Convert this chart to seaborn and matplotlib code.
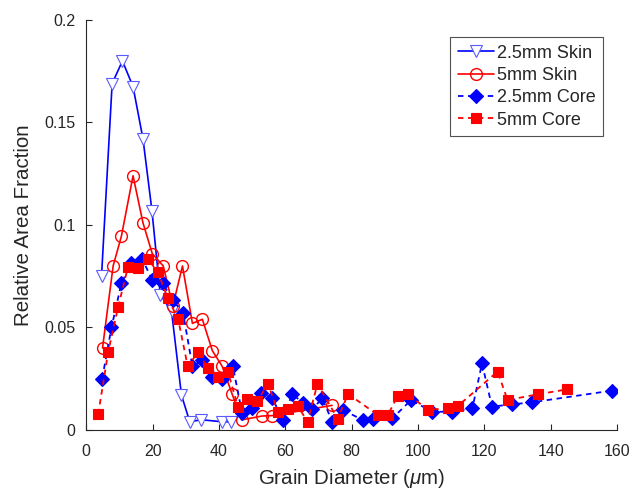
import matplotlib
matplotlib.use("Agg")
import matplotlib.pyplot as plt
import seaborn as sns
import numpy as np

# ---- data ----
skin25_x = [4.6, 7.8, 10.9, 14.1, 17.1, 19.8, 22.3, 25.7, 28.7, 31.2, 34.7, 40.9, 43.5]
skin25_y = [0.075, 0.169, 0.180, 0.1675, 0.142, 0.107, 0.066, 0.058, 0.017, 0.004, 0.005, 0.004, 0.004]

skin5_x = [4.9, 8.1, 10.6, 14.1, 17.1, 19.9, 23.2, 26.1, 29.0, 32.0, 35.0, 38.0, 41.0, 44.0, 46.8, 53.0, 56.0, 74.1]
skin5_y = [0.040, 0.080, 0.0946, 0.124, 0.101, 0.086, 0.080, 0.0605, 0.080, 0.052, 0.054, 0.0387, 0.031, 0.0174, 0.0049, 0.0068, 0.0070, 0.012]

core25_x = [4.8, 7.6, 10.6, 13.6, 16.9, 19.9, 23.0, 26.1, 29.2, 32.0, 35.0, 38.0, 41.0, 44.2, 47.0, 50.0, 52.8, 56.0,
            59.2, 62.1, 65.2, 68.2, 71.1, 74.2, 77.3, 83.3, 86.4, 92.3, 97.9, 104.3, 110.3, 116.4, 119.3, 122.3,
            128.4, 134.4, 158.5]
core25_y = [0.025, 0.050, 0.0716, 0.0813, 0.0834, 0.073, 0.0716, 0.0634, 0.057, 0.031, 0.034, 0.026, 0.0247, 0.031,
            0.0081, 0.0106, 0.0179, 0.0158, 0.005, 0.0176, 0.0133, 0.0101, 0.0155, 0.004, 0.0098, 0.0049, 0.0052,
            0.0057, 0.0146, 0.0089, 0.0089, 0.0106, 0.0325, 0.0114, 0.0125, 0.0135, 0.0192]

core5_x = [3.6, 6.6, 9.6, 12.6, 15.6, 18.6, 21.6, 24.6, 27.7, 30.6, 33.7, 36.7, 39.7, 42.7, 45.7, 48.6, 51.6, 54.8,
           57.8, 60.7, 63.7, 66.7, 69.7, 75.8, 78.9, 87.9, 90.9, 93.9, 96.9, 103.0, 109.0, 112.0, 124.0, 127.0,
           136.1, 144.9]
core5_y = [0.0077, 0.038, 0.060, 0.0797, 0.079, 0.0834, 0.0769, 0.0642, 0.054, 0.031, 0.038, 0.030, 0.0257, 0.0285,
           0.0114, 0.015, 0.0143, 0.0224, 0.0089, 0.0101, 0.0119, 0.004, 0.0225, 0.0054, 0.0176, 0.0073, 0.0073,
           0.0166, 0.0176, 0.0098, 0.0106, 0.0117, 0.0285, 0.0146, 0.0174, 0.0198]

labels = ["2.5mm Skin", "5mm Skin", "2.5mm Core", "5mm Core"]
x_ticks = [0, 20, 40, 60, 80, 100, 120, 140, 160]
y_ticks = [0, 0.05, 0.1, 0.15, 0.2]
y_tick_labels = ["0", "0.05", "0.1", "0.15", "0.2"]

sns.set_style("ticks")
plt.rcParams["font.family"] = ["Liberation Sans", "DejaVu Sans"]
plt.rcParams["mathtext.fontset"] = "custom"
plt.rcParams["mathtext.it"] = "Liberation Sans:italic"
plt.rcParams["mathtext.rm"] = "Liberation Sans"

fig = plt.figure(figsize=(6.39, 4.94), dpi=100)
ax = fig.add_axes([0.135, 0.1296, 0.8306, 0.83])

axcol = "#262626"
sns.lineplot(x=skin25_x, y=skin25_y, ax=ax, sort=False, color="#0000ff", lw=1.2, ls="-",
             marker="v", markersize=8, markerfacecolor="white", markeredgecolor="#5a5aff",
             markeredgewidth=0.8, label=labels[0])
sns.lineplot(x=skin5_x, y=skin5_y, ax=ax, sort=False, color="#ff0000", lw=1.2, ls="-",
             marker="o", markersize=8.5, markerfacecolor="none", markeredgecolor="#ff0000",
             markeredgewidth=1.0, label=labels[1])
sns.lineplot(x=core25_x, y=core25_y, ax=ax, sort=False, color="#0000ff", lw=1.3, ls=(0, (3, 2.5)),
             marker="D", markersize=7, markerfacecolor="#0000ff", markeredgecolor="#0000ff",
             markeredgewidth=0.8, label=labels[2])
sns.lineplot(x=core5_x, y=core5_y, ax=ax, sort=False, color="#ff0000", lw=1.3, ls=(0, (3, 2.5)),
             marker="s", markersize=6.5, markerfacecolor="#ff0000", markeredgecolor="#ff0000",
             markeredgewidth=0.8, label=labels[3])

ax.set_xlim(0, 160)
ax.set_ylim(0, 0.2)
ax.set_xticks(x_ticks)
ax.set_yticks(y_ticks)
ax.set_yticklabels(y_tick_labels)
ax.tick_params(direction="in", length=4, width=0.8, labelsize=11.5, colors=axcol)
ax.tick_params(axis="x", pad=10)
ax.tick_params(axis="y", pad=8)
for s in ["top", "right"]:
    ax.spines[s].set_visible(False)
for s in ["left", "bottom"]:
    ax.spines[s].set_color(axcol)
    ax.spines[s].set_linewidth(0.8)

ax.set_xlabel(r"Grain Diameter ($\mu$m)", fontsize=14.8, color=axcol, labelpad=6)
ax.set_ylabel("Relative Area Fraction", fontsize=14.8, color=axcol, labelpad=8)

leg = ax.legend(loc="upper right", bbox_to_anchor=(0.9736, 0.9585), borderaxespad=0, fontsize=13,
                frameon=True, fancybox=False, edgecolor="#262626", handlelength=2.0, borderpad=0.42,
                labelspacing=0.3, handletextpad=0.15)
leg.get_frame().set_linewidth(0.8)

fig.savefig("out.png", dpi=100)
